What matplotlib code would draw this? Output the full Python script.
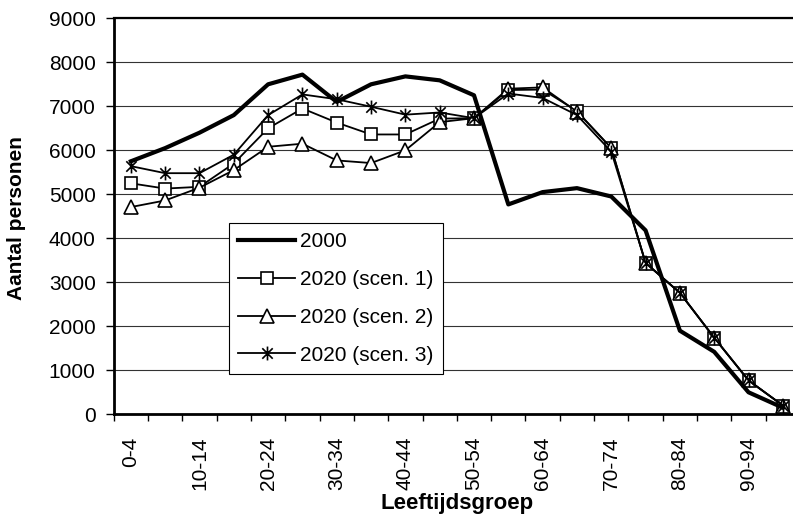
import numpy as np
import matplotlib.pyplot as plt
from matplotlib.path import Path

plt.rcParams['font.family'] = ['Liberation Sans', 'DejaVu Sans']

groepen = ['0-4', '5-9', '10-14', '15-19', '20-24', '25-29', '30-34', '35-39',
           '40-44', '45-49', '50-54', '55-59', '60-64', '65-69', '70-74',
           '75-79', '80-84', '85-89', '90-94', '95+']

jaar_2000 = [5750, 6050, 6400, 6800, 7500, 7720, 7100, 7500, 7680, 7590,
             7250, 4770, 5050, 5140, 4950, 4180, 1900, 1420, 500, 150]
scen_1 = [5250, 5130, 5170, 5700, 6500, 6950, 6630, 6360, 6360, 6720,
          6730, 7370, 7380, 6890, 6050, 3440, 2760, 1740, 770, 200]
scen_2 = [4710, 4860, 5150, 5550, 6080, 6150, 5770, 5710, 6000, 6640,
          6730, 7400, 7430, 6880, 6050, 3440, 2760, 1740, 770, 200]
scen_3 = [5640, 5480, 5480, 5900, 6800, 7270, 7160, 6990, 6810, 6860,
          6730, 7290, 7190, 6800, 5970, 3440, 2760, 1740, 770, 200]

# Excel-style star: X with a vertical stroke
ster = Path([(0, -1), (0, 1), (-0.75, -0.75), (0.75, 0.75), (-0.75, 0.75), (0.75, -0.75)],
            [Path.MOVETO, Path.LINETO, Path.MOVETO, Path.LINETO, Path.MOVETO, Path.LINETO])

W, H = 793, 521
fig = plt.figure(figsize=(W / 100, H / 100), dpi=100)
# plot area runs a little past the right edge, like the original
left, right, top, bottom = 113.7, 800, 18.3, 414.3
ax = fig.add_axes([left / W, 1 - bottom / H, (right - left) / W, (bottom - top) / H])

x = np.arange(len(groepen))
ax.plot(x, jaar_2000, color='black', linewidth=3.0, label='2000', zorder=5)
ax.plot(x, scen_1, color='black', linewidth=1.3, marker='s', markersize=9,
        markerfacecolor='white', markeredgecolor='black', markeredgewidth=1.2,
        label='2020 (scen. 1)', zorder=4)
ax.plot(x, scen_2, color='black', linewidth=1.3, marker='^', markersize=10,
        markerfacecolor='white', markeredgecolor='black', markeredgewidth=1.2,
        label='2020 (scen. 2)', zorder=4)
ax.plot(x, scen_3, color='black', linewidth=1.3, marker=ster, markersize=10,
        markeredgecolor='black', markeredgewidth=1.2,
        label='2020 (scen. 3)', zorder=4)

ax.set_xlim(-0.5, len(groepen) - 0.5)
ax.set_ylim(0, 9000)
ax.set_yticks(np.arange(0, 9001, 1000))
ax.yaxis.grid(True, color='#333333', linewidth=0.8)
ax.set_axisbelow(True)

# tick marks between categories, labels on every second category
ax.set_xticks(np.arange(-0.5, len(groepen), 1))
ax.set_xticklabels([])
ax.set_xticks(x[::2], minor=True)
ax.set_xticklabels(groepen[::2], minor=True, rotation=90, va='top')
ax.tick_params(axis='x', which='major', direction='out', length=5, width=1)
ax.tick_params(axis='x', which='minor', length=0, pad=16, labelsize=15)
ax.tick_params(axis='y', direction='out', length=6, width=1, pad=7, labelsize=15)

for side in ['left', 'bottom']:
    ax.spines[side].set_linewidth(2)
ax.spines['top'].set_linewidth(1.6)
ax.spines['right'].set_visible(False)

ax.set_ylabel('Aantal personen', fontsize=15, fontweight='bold', ha='center', va='center')
ax.yaxis.set_label_coords((17 - left) / (right - left), (bottom - 218) / (bottom - top))
ax.set_xlabel('Leeftijdsgroep', fontsize=16, fontweight='bold', va='baseline')
ax.xaxis.set_label_coords(0.5, (bottom - 509) / (bottom - top))

leg = ax.legend(loc='lower left', bbox_to_anchor=(229 / W, 1 - 374 / H),
                bbox_transform=fig.transFigure, fontsize=15, frameon=True,
                fancybox=False, edgecolor='black', framealpha=1,
                handlelength=2.7, handletextpad=0.25, labelspacing=0.9,
                borderpad=0.45, borderaxespad=0)
leg.get_frame().set_linewidth(0.8)

fig.savefig('out.png', dpi=100)
